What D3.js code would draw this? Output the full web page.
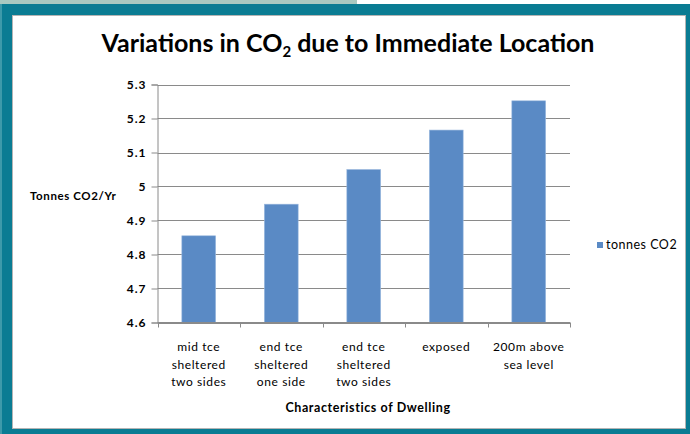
<!DOCTYPE html>
<html>
<head>
<meta charset="utf-8">
<script src="https://cdn.jsdelivr.net/npm/d3@7"></script>
<style>
  html, body { margin: 0; padding: 0; background: #fff; }
  svg { display: block; font-family: Lato, "Open Sans", sans-serif; }
</style>
</head>
<body>
<svg id="chart" width="690" height="434"></svg>
<script>
// chart values
var categories = [
  ["mid tce", "sheltered", "two sides"],
  ["end tce", "sheltered", "one side"],
  ["end tce", "sheltered", "two sides"],
  ["exposed"],
  ["200m above", "sea level"]
];
var tonnes = [4.855, 4.948, 5.05, 5.166, 5.252];
var yTicks = [4.6, 4.7, 4.8, 4.9, 5, 5.1, 5.2, 5.3];
var seriesName = "tonnes CO2";

var svg = d3.select("#chart"),
    width = +svg.attr("width"),
    height = +svg.attr("height");

// slide frame
svg.append("rect").attr("width", width).attr("height", height).attr("fill", "#0a7c93");
svg.append("rect").attr("x", 0).attr("y", 0).attr("width", 357).attr("height", 4).attr("fill", "#a9c9c1");
svg.append("rect").attr("x", 357).attr("y", 0).attr("width", width - 357).attr("height", 4).attr("fill", "#ffffff");
svg.append("rect").attr("x", 0).attr("y", 4).attr("width", 2).attr("height", height).attr("fill", "#3d9aaa");
svg.append("rect")
    .attr("x", 12.5).attr("y", 15.5)
    .attr("width", 673).attr("height", 413)
    .attr("fill", "#fff")
    .attr("stroke", "#b4b4b4");

var margin = {left: 157.5, right: 570, top: 84.5, bottom: 322.5};

var x = d3.scaleBand()
    .domain(d3.range(categories.length))
    .range([margin.left, margin.right])
    .paddingInner(0.59)
    .paddingOuter(0.295);

var xOuter = d3.scaleBand()
    .domain(d3.range(categories.length))
    .range([margin.left, margin.right]);

var y = d3.scaleLinear()
    .domain([4.6, 5.3])
    .range([margin.bottom, margin.top]);

// gridlines
svg.append("g")
    .selectAll("line")
    .data(yTicks)
    .enter().append("line")
      .attr("x1", margin.left)
      .attr("x2", margin.right)
      .attr("y1", function(d) { return Math.round(y(d)) + 0.5; })
      .attr("y2", function(d) { return Math.round(y(d)) + 0.5; })
      .attr("stroke", "#8a8a8a");

// bars
svg.append("g")
    .selectAll("rect")
    .data(tonnes)
    .enter().append("rect")
      .attr("x", function(d, i) { return x(i); })
      .attr("width", x.bandwidth())
      .attr("y", function(d) { return y(d); })
      .attr("height", function(d) { return y(4.6) - y(d); })
      .attr("fill", "#5a8ac5")
      .attr("stroke", "#9cb9de")
      .attr("stroke-width", 0.6);

// y axis
var yAxis = svg.append("g")
    .attr("transform", "translate(" + margin.left + ",0)")
    .call(d3.axisLeft(y).tickValues(yTicks).tickSize(6).tickPadding(5)
      .tickFormat(function(d) { return d3.format("")(+d.toFixed(1)); }));
yAxis.select(".domain").attr("stroke", "#8a8a8a");
yAxis.selectAll(".tick line").attr("stroke", "#8a8a8a");
yAxis.selectAll(".tick text")
    .attr("font-family", "Lato, sans-serif")
    .attr("font-size", 12)
    .attr("font-weight", "bold")
    .attr("letter-spacing", 1)
    .attr("fill", "#000");

// x axis (ticks at category boundaries)
var xAxisG = svg.append("g");
xAxisG.append("line")
    .attr("x1", margin.left).attr("x2", margin.right)
    .attr("y1", margin.bottom).attr("y2", margin.bottom)
    .attr("stroke", "#8a8a8a");
xAxisG.selectAll(".xtick")
    .data(d3.range(categories.length + 1))
    .enter().append("line")
      .attr("x1", function(i) { return Math.round(margin.left + i * xOuter.step()) + 0.5; })
      .attr("x2", function(i) { return Math.round(margin.left + i * xOuter.step()) + 0.5; })
      .attr("y1", margin.bottom)
      .attr("y2", margin.bottom + 5)
      .attr("stroke", "#8a8a8a");

var xLabels = xAxisG.selectAll(".xlabel")
    .data(categories)
    .enter().append("text")
      .attr("text-anchor", "middle")
      .attr("font-size", 12)
      .attr("letter-spacing", 0.6)
      .attr("fill", "#000");
xLabels.selectAll("tspan")
    .data(function(d, i) { return d.map(function(t) { return {t: t, i: i}; }); })
    .enter().append("tspan")
      .attr("x", function(d) { return xOuter(d.i) + xOuter.bandwidth() / 2; })
      .attr("y", function(d, j) { return 351 + j * 17.5; })
      .text(function(d) { return d.t; });

// axis titles
svg.append("text")
    .attr("x", 368).attr("y", 412)
    .attr("text-anchor", "middle")
    .attr("font-size", 12.5)
    .attr("font-weight", "bold")
    .attr("letter-spacing", 0.6)
    .text("Characteristics of Dwelling");

svg.append("text")
    .attr("x", 30).attr("y", 200)
    .attr("font-size", 11.5)
    .attr("font-weight", "bold")
    .attr("letter-spacing", 0.6)
    .text("Tonnes CO2/Yr");

// title
var title = svg.append("text")
    .attr("x", 348).attr("y", 52)
    .attr("text-anchor", "middle")
    .attr("font-size", 25)
    .attr("font-weight", "bold")
    .attr("fill", "#000");
title.append("tspan").text("Variations in CO");
title.append("tspan").attr("font-size", 15).attr("dy", 5).text("2");
title.append("tspan").attr("dy", -5).text(" due to Immediate Location");

// legend
var legend = svg.append("g").attr("transform", "translate(597,242)");
legend.append("rect").attr("width", 6).attr("height", 6).attr("fill", "#5a8ac5");
legend.append("text")
    .attr("x", 9).attr("y", 7)
    .attr("font-size", 12.5)
    .attr("letter-spacing", 0.5)
    .text(seriesName);
</script>
</body>
</html>
